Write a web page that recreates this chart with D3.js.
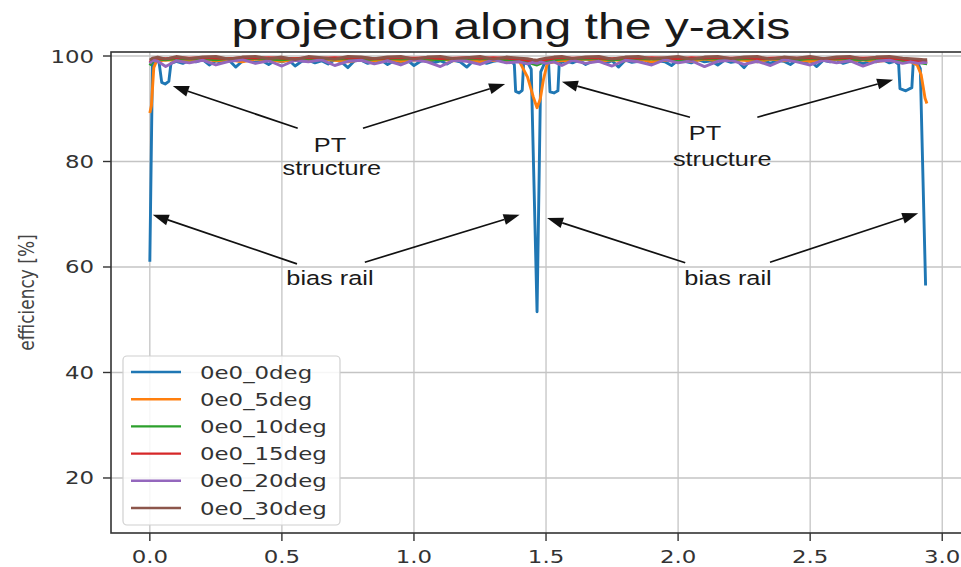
<!DOCTYPE html>
<html><head><meta charset="utf-8">
<script src="https://cdn.jsdelivr.net/npm/d3@7"></script>
<style>body{margin:0;background:#fff;} svg{display:block}</style>
</head><body><svg id="c" width="961" height="567"></svg>
<script>
// ---------- data ----------
const chartTitle = "projection along the y-axis";
const yLabel = "efficiency [%]";
const seriesNames = ["0e0_0deg","0e0_5deg","0e0_10deg","0e0_15deg","0e0_20deg","0e0_30deg"];
const seriesColors = ["#1f77b4","#ff7f0e","#2ca02c","#d62728","#9467bd","#8c564b"];
const xTicks = [0.0,0.5,1.0,1.5,2.0,2.5,3.0];
const xTickLabels = ["0.0","0.5","1.0","1.5","2.0","2.5","3.0"];
const yTicks = [20,40,60,80,100];
const yTickLabels = ["20","40","60","80","100"];

const x0deg = [0.000,0.010,0.020,0.035,0.045,0.058,0.072,0.080,0.100,
 0.125,0.150,0.175,0.200,0.225,0.250,0.275,0.300,0.325,0.350,
 0.375,0.400,0.425,0.450,0.475,0.500,0.525,0.550,0.575,0.600,
 0.625,0.650,0.675,0.700,0.725,0.750,0.775,0.800,0.825,0.850,
 0.875,0.900,0.925,0.950,0.975,1.000,1.025,1.050,1.075,1.100,
 1.125,1.150,1.175,1.200,1.225,1.250,1.275,1.300,1.325,1.350,
 1.370,1.380,1.385,1.398,1.410,1.415,1.430,1.444,1.466,1.480,1.495,1.510,1.515,1.530,1.545,1.550,
 1.575,1.600,1.625,1.650,1.675,1.700,1.725,1.750,1.775,1.800,
 1.825,1.850,1.875,1.900,1.925,1.950,1.975,2.000,2.025,2.050,
 2.075,2.100,2.125,2.150,2.175,2.200,2.225,2.250,2.275,2.300,
 2.325,2.350,2.375,2.400,2.425,2.450,2.475,2.500,2.525,2.550,
 2.575,2.600,2.625,2.650,2.675,2.700,2.725,2.750,2.775,2.800,
 2.820,2.835,2.840,2.862,2.885,2.890,2.905,2.917,2.937];
const y0deg = [61.0,98.4,99.1,98.8,95.0,94.7,95.2,98.6,99.0,
 98.6,99.2,98.9,99.3,98.3,99.1,98.8,99.2,97.9,99.0,
 99.3,98.7,99.1,98.4,99.2,98.9,99.3,98.1,99.0,99.2,
 98.7,99.1,98.5,99.3,98.9,97.8,99.1,99.2,98.6,99.0,
 99.3,98.4,99.1,98.8,99.2,98.2,99.0,99.3,98.7,99.1,
 98.5,99.2,98.9,97.9,99.1,99.3,98.6,99.0,99.2,98.8,
 99.0,98.4,93.3,93.0,93.5,98.5,98.8,97.5,51.5,97.0,98.7,98.4,93.2,93.0,93.4,98.6,
 99.1,98.7,99.2,98.4,99.0,99.3,98.6,99.1,97.9,99.2,
 98.8,99.0,99.3,98.5,99.1,98.9,98.2,99.2,99.0,98.7,
 99.3,98.9,99.1,98.3,99.2,98.8,99.0,97.8,99.3,98.9,
 99.1,98.6,99.2,99.0,98.4,99.3,98.8,99.1,98.0,99.2,
 98.9,99.3,98.6,99.0,99.2,98.5,99.1,98.9,99.3,98.7,
 99.0,98.4,93.8,93.4,94.0,98.5,98.9,97.6,56.5];

const x5deg = [0.000,0.006,0.015,0.025,0.050,
 0.10,0.15,0.20,0.25,0.30,0.35,0.40,0.45,0.50,0.55,
 0.60,0.65,0.70,0.75,0.80,0.85,0.90,0.95,1.00,1.05,
 1.10,1.15,1.20,1.25,1.30,1.35,
 1.400,1.430,1.452,1.466,1.478,1.490,1.505,1.550,
 1.60,1.65,1.70,1.75,1.80,1.85,1.90,1.95,2.00,2.05,
 2.10,2.15,2.20,2.25,2.30,2.35,2.40,2.45,2.50,2.55,
 2.60,2.65,2.70,2.75,2.80,2.85,
 2.880,2.905,2.920,2.935,2.942];
const y5deg = [89.2,90.6,97.8,99.0,99.2,
 99.3,99.0,99.4,99.1,99.3,98.9,99.4,99.2,99.0,99.3,
 99.1,99.4,99.2,98.9,99.3,99.1,99.4,99.0,99.3,99.2,
 99.4,99.1,99.3,98.9,99.2,99.1,
 98.9,96.0,92.2,90.2,91.8,95.5,98.6,99.1,
 99.2,99.4,99.0,99.3,99.1,99.4,98.9,99.2,99.3,99.0,
 99.4,99.1,99.3,99.2,98.9,99.4,99.1,99.3,99.0,99.2,
 99.4,99.1,99.3,99.0,99.2,99.1,
 98.9,98.3,96.5,92.0,91.0];

const xShared = [0.000,0.010,0.030,0.060,0.100,0.150,0.200,0.250,0.300,0.350,
 0.400,0.450,0.500,0.550,0.600,0.650,0.700,0.750,0.800,0.850,
 0.900,0.950,1.000,1.050,1.100,1.150,1.200,1.250,1.300,1.350,
 1.400,1.430,1.450,1.466,1.480,1.500,1.530,1.560,1.600,1.650,
 1.700,1.750,1.800,1.850,1.900,1.950,2.000,2.050,2.100,2.150,
 2.200,2.250,2.300,2.350,2.400,2.450,2.500,2.550,2.600,2.650,
 2.700,2.750,2.800,2.850,2.880,2.910,2.930,2.943];
const y10deg = [98.2,99.0,99.4,99.3,99.5,99.4,99.5,99.3,99.5,99.4,
 99.5,99.4,99.3,99.5,99.4,99.5,99.4,99.5,99.3,99.4,
 99.5,99.4,99.5,99.4,99.3,99.5,99.4,99.5,99.4,99.3,
 99.2,98.9,98.5,98.3,98.6,99.0,99.3,99.4,99.5,99.4,
 99.5,99.3,99.4,99.5,99.4,99.5,99.3,99.4,99.5,99.4,
 99.3,99.5,99.4,99.5,99.4,99.3,99.5,99.4,99.5,99.4,
 99.3,99.5,99.4,99.2,99.0,98.8,98.6,98.5];
const y15deg = [98.8,99.4,99.6,99.5,99.7,99.6,99.7,99.6,99.5,99.7,
 99.6,99.7,99.6,99.5,99.7,99.6,99.7,99.6,99.7,99.5,
 99.6,99.7,99.6,99.7,99.5,99.6,99.7,99.6,99.7,99.6,
 99.4,99.2,98.9,98.7,99.0,99.3,99.6,99.7,99.6,99.7,
 99.6,99.5,99.7,99.6,99.7,99.6,99.5,99.7,99.6,99.7,
 99.6,99.7,99.5,99.6,99.7,99.6,99.7,99.5,99.6,99.7,
 99.6,99.7,99.6,99.4,99.2,99.0,98.9,98.9];
const y20deg = [98.6,99.2,99.0,98.0,99.1,98.7,99.2,98.3,99.0,99.3,
 98.6,99.1,98.1,99.2,98.9,99.3,98.2,99.0,99.2,98.5,
 99.1,98.3,99.3,98.9,98.0,99.2,99.0,98.4,99.3,98.7,
 98.9,98.5,98.8,98.6,98.9,98.6,98.9,98.2,99.2,98.6,
 99.0,98.1,99.2,98.9,98.3,99.3,98.7,99.1,98.0,99.0,
 99.2,98.4,99.0,98.2,99.3,98.9,98.3,99.2,98.7,99.1,
 98.1,99.0,99.2,98.6,98.9,98.6,98.8,98.7];
const y30deg = [99.2,99.6,99.8,99.4,99.9,99.5,99.8,99.9,99.4,99.8,
 99.9,99.5,99.8,99.3,99.9,99.7,99.4,99.9,99.8,99.5,
 99.8,99.9,99.4,99.8,99.9,99.5,99.7,99.9,99.4,99.8,
 99.6,99.5,99.3,99.2,99.4,99.6,99.8,99.9,99.5,99.8,
 99.9,99.4,99.8,99.9,99.5,99.7,99.9,99.4,99.8,99.9,
 99.5,99.8,99.9,99.4,99.8,99.6,99.9,99.5,99.8,99.9,
 99.4,99.8,99.9,99.6,99.5,99.4,99.3,99.3];

const annotTexts = ["PT","structure","bias rail","PT","structure","bias rail"];
const annotTextX = [0.682,0.689,0.682,2.102,2.167,2.189];
const annotTextY = [81.8,77.4,56.6,84.1,79.1,56.6];
const arrowFromX = [0.560,0.807,0.557,0.814,2.045,2.300,2.027,2.348];
const arrowFromY = [86.3,86.3,60.6,60.9,88.4,88.4,60.8,60.9];
const arrowToX   = [0.087,1.345,0.011,1.400,1.560,2.814,1.504,2.909];
const arrowToY   = [94.3,94.7,69.9,69.9,95.1,95.5,69.3,70.2];

// ---------- drawing ----------
const S = 1.27; // horizontal stretch of text glyphs
const svg = d3.select("#c");
const L = 111, R = 966, T = 52, B = 533;
const x = d3.scaleLinear().domain([-0.147, 3.09]).range([L, R]);
const y = d3.scaleLinear().domain([9.57, 100.76]).range([B, T]);

svg.append("defs").append("clipPath").attr("id","clip")
  .append("rect").attr("x",L).attr("y",T).attr("width",R-L).attr("height",B-T);

// grid
const grid = svg.append("g");
grid.selectAll(".gx").data(xTicks).join("line")
  .attr("x1",d=>x(d)).attr("x2",d=>x(d)).attr("y1",T).attr("y2",B)
  .attr("stroke","#c4c4c4").attr("stroke-width",1.3);
grid.selectAll(".gy").data(yTicks).join("line")
  .attr("y1",d=>y(d)).attr("y2",d=>y(d)).attr("x1",L).attr("x2",R)
  .attr("stroke","#c4c4c4").attr("stroke-width",1.3);

// series
const series = [
  {xs:x0deg, ys:y0deg},
  {xs:x5deg, ys:y5deg},
  {xs:xShared, ys:y10deg},
  {xs:xShared, ys:y15deg},
  {xs:xShared, ys:y20deg},
  {xs:xShared, ys:y30deg}
];
const line = d3.line().x(d=>x(d[0])).y(d=>y(d[1]));
const plot = svg.append("g").attr("clip-path","url(#clip)");
series.forEach((s,i)=>{
  plot.append("path").datum(s.xs.map((v,j)=>[v,s.ys[j]]))
    .attr("d",line).attr("fill","none")
    .attr("stroke",seriesColors[i]).attr("stroke-width",2.9)
    .attr("stroke-linejoin","round");
});

// frame
svg.append("rect").attr("x",L).attr("y",T).attr("width",R-L).attr("height",B-T)
  .attr("fill","none").attr("stroke","#333").attr("stroke-width",1.6);

// axes
const xAxis = svg.append("g");
xAxis.selectAll("line").data(xTicks).join("line")
  .attr("x1",d=>x(d)).attr("x2",d=>x(d)).attr("y1",B).attr("y2",B+8)
  .attr("stroke","#333").attr("stroke-width",1.4);
xAxis.selectAll("text").data(xTicks).join("text")
  .attr("transform",d=>`translate(${x(d)},${B+30}) scale(${S},1)`)
  .attr("text-anchor","middle").attr("font-family","DejaVu Sans")
  .attr("font-size",18).attr("fill","#333")
  .text((d,i)=>xTickLabels[i]);

const yAxis = svg.append("g");
yAxis.selectAll("line").data(yTicks).join("line")
  .attr("y1",d=>y(d)).attr("y2",d=>y(d)).attr("x1",L-8).attr("x2",L)
  .attr("stroke","#333").attr("stroke-width",1.4);
yAxis.selectAll("text").data(yTicks).join("text")
  .attr("transform",d=>`translate(${L-17},${y(d)+6.5}) scale(${S},1)`)
  .attr("text-anchor","end").attr("font-family","DejaVu Sans")
  .attr("font-size",18).attr("fill","#333")
  .text((d,i)=>yTickLabels[i]);

svg.append("text")
  .attr("transform",`translate(34,${(T+B)/2}) scale(${S},1) rotate(-90)`)
  .attr("text-anchor","middle").attr("font-family","DejaVu Sans")
  .attr("font-size",17).attr("fill","#444").text(yLabel);

// title
svg.append("text")
  .attr("transform",`translate(511,39) scale(1.3,1)`)
  .attr("text-anchor","middle").attr("font-family","Liberation Sans, Arial, sans-serif")
  .attr("font-size",37).attr("fill","#1a1a1a").text(chartTitle);

// annotations
const ann = svg.append("g");
annotTexts.forEach((t,i)=>{
  ann.append("text")
    .attr("transform",`translate(${x(annotTextX[i])},${y(annotTextY[i])}) scale(1.3,1)`)
    .attr("text-anchor","middle").attr("font-family","Liberation Sans, Arial, sans-serif")
    .attr("font-size",19.5).attr("fill","#1a1a1a").text(t);
});
arrowFromX.forEach((fx,i)=>{
  const x1 = x(fx), y1 = y(arrowFromY[i]), x2 = x(arrowToX[i]), y2 = y(arrowToY[i]);
  const dx = x2-x1, dy = y2-y1, len = Math.hypot(dx,dy);
  const ux = dx/len, uy = dy/len, hl = 16, hw = 5.5;
  const bx = x2-ux*hl, by = y2-uy*hl;
  ann.append("line").attr("x1",x1).attr("y1",y1).attr("x2",bx).attr("y2",by)
    .attr("stroke","#111").attr("stroke-width",1.7);
  ann.append("path")
    .attr("d",`M${x2},${y2}L${bx-uy*hw},${by+ux*hw}L${bx+uy*hw},${by-ux*hw}Z`)
    .attr("fill","#111");
});

// legend
const lg = svg.append("g");
lg.append("rect").attr("x",123).attr("y",356).attr("width",217).attr("height",169)
  .attr("rx",4).attr("fill","#fff").attr("fill-opacity",0.85)
  .attr("stroke","#d0d0d0").attr("stroke-width",1.2);
seriesNames.forEach((n,i)=>{
  const yy = 372 + i*27.2;
  lg.append("line").attr("x1",131).attr("x2",181).attr("y1",yy).attr("y2",yy)
    .attr("stroke",seriesColors[i]).attr("stroke-width",2.4);
  lg.append("text").attr("transform",`translate(200,${yy+6.5}) scale(${S},1)`)
    .attr("font-family","DejaVu Sans").attr("font-size",18).attr("fill","#333").text(n);
});
</script></body></html>
